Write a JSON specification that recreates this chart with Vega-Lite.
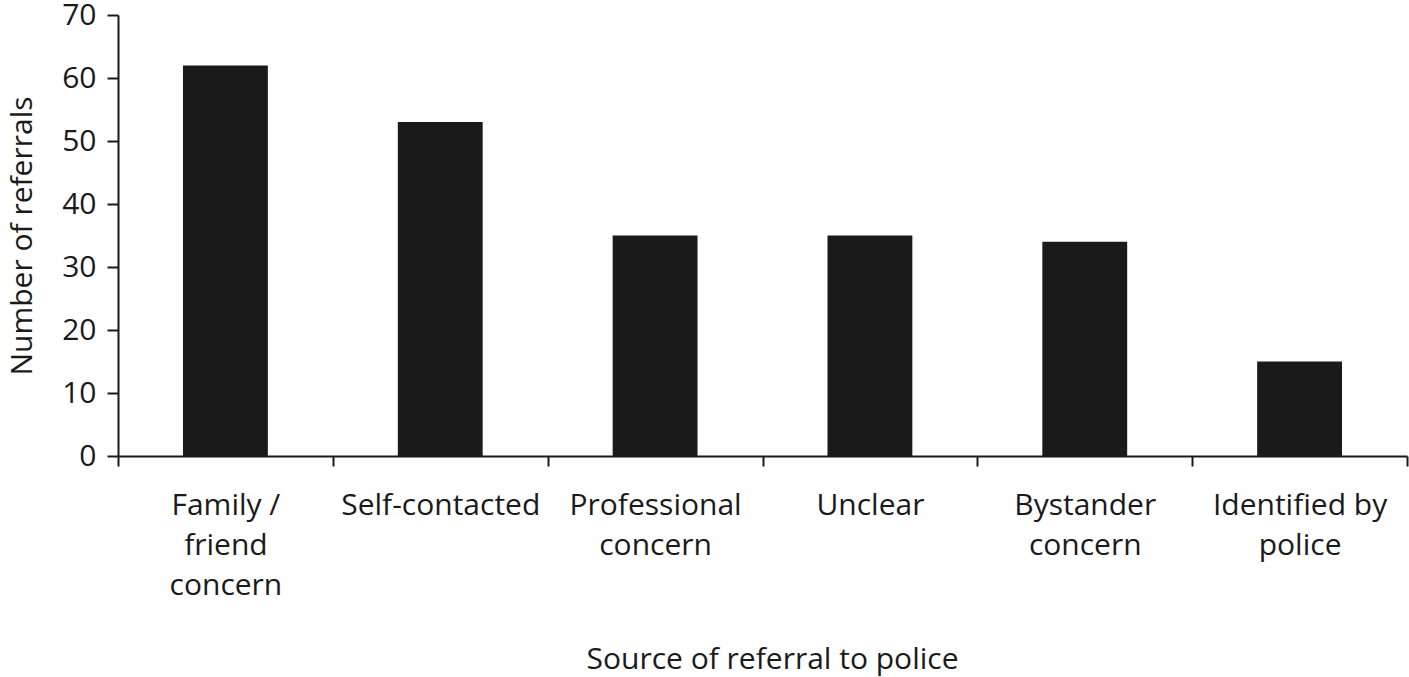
{
  "$schema": "https://vega.github.io/schema/vega-lite/v6.json",
  "width": 1289,
  "height": 441,
  "autosize": {"type": "none"},
  "padding": {"left": 118, "top": 15, "right": 2, "bottom": 221},
  "background": "white",
  "config": {
    "view": {"stroke": null},
    "font": "Open Sans",
    "axis": {
      "labelFont": "Open Sans",
      "titleFont": "Open Sans",
      "labelFontSize": 30,
      "titleFontSize": 30,
      "titleFontWeight": "normal",
      "labelColor": "#1a1a1a",
      "titleColor": "#1a1a1a",
      "domainColor": "#1a1a1a",
      "tickColor": "#1a1a1a",
      "domainWidth": 2,
      "tickWidth": 2,
      "grid": false
    }
  },
  "data": {
    "values": [
      {"source": "Family / friend concern", "referrals": 62},
      {"source": "Self-contacted", "referrals": 53},
      {"source": "Professional concern", "referrals": 35},
      {"source": "Unclear", "referrals": 35},
      {"source": "Bystander concern", "referrals": 34},
      {"source": "Identified by police", "referrals": 15}
    ]
  },
  "mark": {"type": "bar", "color": "#1a1a1a", "width": {"band": 0.395}},
  "encoding": {
    "x": {
      "field": "source",
      "type": "nominal",
      "sort": null,
      "scale": {"paddingInner": 0, "paddingOuter": 0},
      "axis": {
        "title": "Source of referral to police",
        "labelAngle": 0,
        "tickBand": "extent",
        "tickSize": 10,
        "labelPadding": 24,
        "labelBaseline": "top",
        "labelLineHeight": 40,
        "labelLimit": 300,
        "titlePadding": 44,
        "titleX": 654,
        "labelExpr": "datum.value == 'Family / friend concern' ? ['Family /', 'friend', 'concern'] : datum.value == 'Professional concern' ? ['Professional', 'concern'] : datum.value == 'Bystander concern' ? ['Bystander', 'concern'] : datum.value == 'Identified by police' ? ['Identified by', 'police'] : datum.value"
      }
    },
    "y": {
      "field": "referrals",
      "type": "quantitative",
      "scale": {"domain": [0, 70], "nice": false},
      "axis": {
        "title": "Number of referrals",
        "values": [0, 10, 20, 30, 40, 50, 60, 70],
        "tickSize": 11,
        "labelPadding": 11,
        "titlePadding": 24
      }
    }
  }
}
